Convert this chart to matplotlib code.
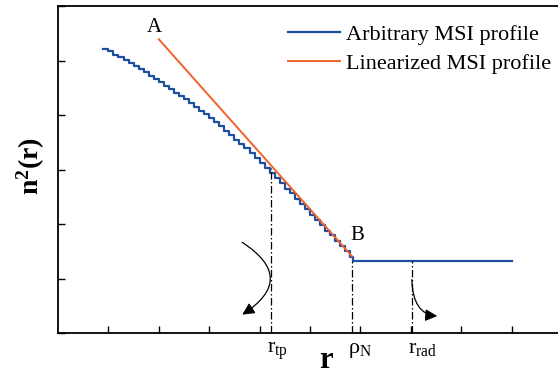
import numpy as np
import matplotlib
matplotlib.use("Agg")
import matplotlib.pyplot as plt
from matplotlib.patches import FancyArrowPatch

plt.rcParams['font.family'] = ['Liberation Serif', 'DejaVu Serif']
plt.rcParams['mathtext.fontset'] = 'custom'
plt.rcParams['mathtext.rm'] = 'Liberation Serif'
plt.rcParams['mathtext.it'] = 'Liberation Serif:italic'
plt.rcParams['mathtext.bf'] = 'Liberation Serif:bold'

# ---- data ----
r_step = np.round(np.arange(0.9, 5.81, 0.1), 2)
n2_step = [5.22, 5.17, 5.11, 5.06, 5.01, 4.95, 4.89, 4.84, 4.78, 4.72,
           4.66, 4.60, 4.54, 4.48, 4.41, 4.35, 4.29, 4.22, 4.15,
           4.08, 4.01, 3.94, 3.87, 3.79, 3.71, 3.64, 3.55, 3.47, 3.39,
           3.30, 3.21, 3.12, 3.03, 2.94,
           2.84, 2.75, 2.65, 2.56, 2.46, 2.36, 2.27, 2.17, 2.08, 1.98,
           1.88, 1.79, 1.69, 1.59, 1.50, 1.40]
r_clad = [5.85, 9.0]
n2_clad = [1.33, 1.33]
r_lin = [2.0, 5.83]
n2_lin = [5.39, 1.41]

r_tp, rho_N, r_rad = 4.22, 5.84, 7.02
n2_tp = 3.02
tick_pos = [r_tp, rho_N, r_rad]
tick_labels = [r'$\mathregular{r_{tp}}$', r'$\mathregular{ρ_{N}}$', r'$\mathregular{r_{rad}}$']

legend_labels = ['Arbitrary MSI profile', 'Linearized MSI profile']
blue = '#1d4f9e'
orange = '#f2622c'

fig = plt.figure(figsize=(5.58, 3.74), dpi=100)
ax = fig.add_axes([58/558, 41/374, 500/558, 327/374])
ax.set_xlim(0, 500/50.4)
ax.set_ylim(0, 6)

r_arb = list(r_step) + r_clad
n2_arb = list(n2_step) + n2_clad
ax.plot(r_arb, n2_arb, drawstyle='steps-post', color=blue, lw=1.6, label=legend_labels[0])
ax.plot(r_lin, n2_lin, color=orange, lw=1.4, label=legend_labels[1])

dd = (0, (6, 2, 1.2, 2))
ax.plot([r_tp, r_tp], [0, n2_tp], color='black', lw=0.9, linestyle=dd)
ax.plot([rho_N, rho_N], [0, n2_clad[0]], color='black', lw=0.9, linestyle=dd)
ax.plot([r_rad, r_rad], [0, n2_clad[0]], color='black', lw=0.9, linestyle=dd)

ax.text(1.92, 5.61, 'A', fontsize=15, ha='center', va='center')
ax.text(5.94, 1.78, 'B', fontsize=15, ha='center', va='center')

a1 = FancyArrowPatch((3.61, 1.69), (3.61, 0.31), connectionstyle='arc3,rad=-0.8',
                     arrowstyle='-|>', mutation_scale=18, color='black', lw=0.9)
ax.add_patch(a1)
a2 = FancyArrowPatch((7.02, 1.03), (7.58, 0.31), connectionstyle='angle3,angleA=90,angleB=0',
                     arrowstyle='-|>', mutation_scale=18, color='black', lw=0.9)
ax.add_patch(a2)

for xp, lab in zip(tick_pos, tick_labels):
    ax.annotate(lab, xy=(xp, 0), xytext=(-4, -20), textcoords='offset pixels',
                ha='left', va='baseline', fontsize=16, annotation_clip=False)

ax.set_xticks(np.arange(1, 10))
ax.set_yticks(np.arange(0, 7))
ax.set_xticklabels([])
ax.set_yticklabels([])
ax.tick_params(direction='in', length=5, width=1)
for s in ['left', 'bottom', 'top']:
    ax.spines[s].set_linewidth(1.3)
ax.spines['right'].set_visible(False)

leg = ax.legend(loc='upper left', bbox_to_anchor=(0.46, 0.943), frameon=False,
                fontsize=16, handlelength=2.35, handletextpad=0.25,
                labelspacing=0.36, borderpad=0, borderaxespad=0)

fig.text(31/558, 1 - 166/374, r'$\mathbf{n^{2}(r)}$', rotation=90, fontsize=20,
         ha='center', va='center')
fig.text(326/558, 6/374, r'$\mathbf{r}$', fontsize=22, ha='center', va='baseline')

fig.savefig('out.png', dpi=100)
